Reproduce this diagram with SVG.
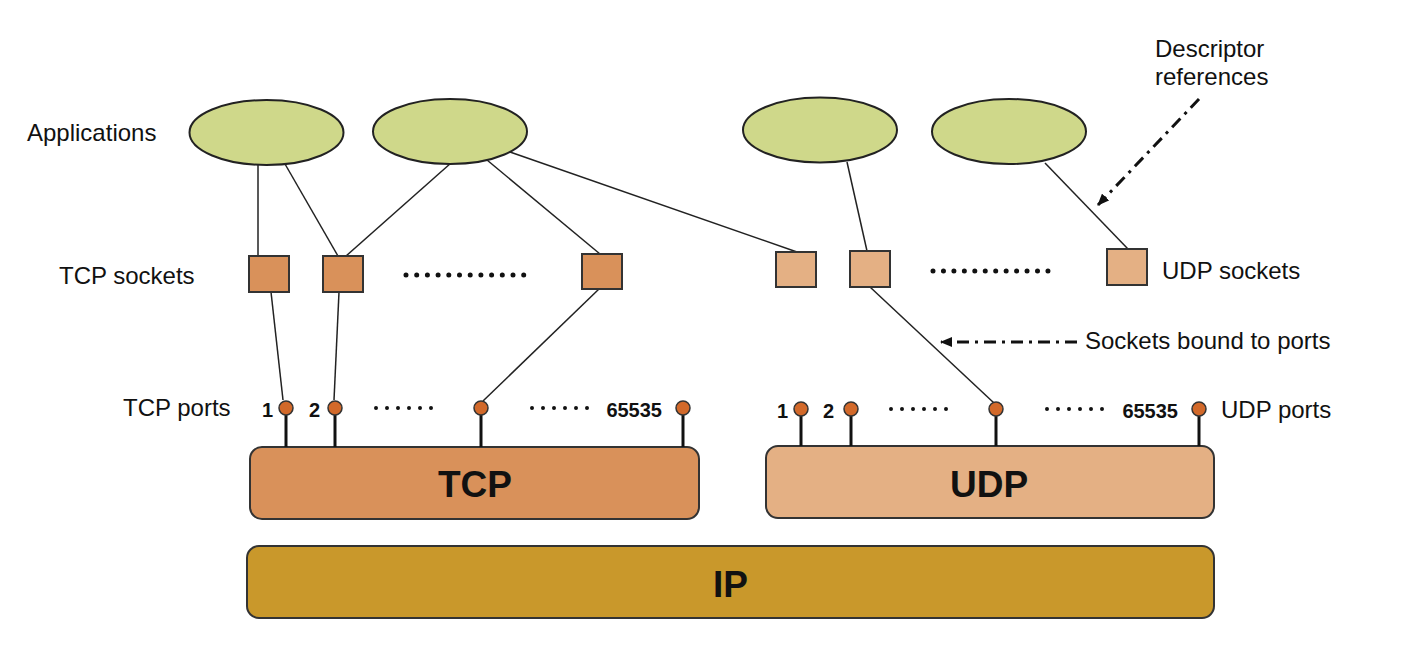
<svg xmlns="http://www.w3.org/2000/svg" width="1402" height="662" viewBox="0 0 1402 662">
<defs>
<style>
.lbl{font-family:"Liberation Sans",Arial,sans-serif;font-size:24px;fill:#111}
.num{font-family:"Liberation Sans",Arial,sans-serif;font-size:20px;font-weight:bold;fill:#111}
.big{font-family:"Liberation Sans",Arial,sans-serif;font-size:37px;font-weight:bold;fill:#111;text-anchor:middle}
.app{fill:#cfd88a;stroke:#222;stroke-width:2}
.tsock{fill:#d9915a;stroke:#333;stroke-width:2}
.usock{fill:#e4b084;stroke:#333;stroke-width:2}
.port{fill:#d2692a;stroke:#333;stroke-width:1.5}
.stem{stroke:#111;stroke-width:3}
.con{stroke:#222;stroke-width:1.5;fill:none}
.dots{stroke:#111;stroke-width:5;stroke-linecap:round;fill:none}
.pdots{stroke:#111;stroke-width:4;stroke-linecap:round;stroke-dasharray:0 11;fill:none}
.dd{stroke:#111;stroke-width:3;fill:none;stroke-dasharray:12 6 3 6}
</style>
<marker id="ah" viewBox="0 0 12 10" refX="11" refY="5" markerWidth="12" markerHeight="10" markerUnits="userSpaceOnUse" orient="auto">
<path d="M0,0 L12,5 L0,10 z" fill="#111"/>
</marker>
</defs>
<rect width="1402" height="662" fill="#fff"/>

<g id="ip-layer">
<rect x="247" y="546" width="967" height="72" rx="12" fill="#c9982b" stroke="#333" stroke-width="2"/>
<text class="big" x="730.5" y="597">IP</text>
</g>
<g id="tcp-layer">
<rect x="250" y="447" width="449" height="72" rx="12" fill="#d9915a" stroke="#333" stroke-width="2"/>
<text class="big" x="475" y="497">TCP</text>
</g>
<g id="udp-layer">
<rect x="766" y="446" width="448" height="72" rx="12" fill="#e4b084" stroke="#333" stroke-width="2"/>
<text class="big" x="989" y="497">UDP</text>
</g>

<g id="connectors">
<line class="con" x1="258" y1="165" x2="258" y2="256"/>
<line class="con" x1="285" y1="164" x2="338" y2="256"/>
<line class="con" x1="451" y1="163" x2="346" y2="256"/>
<line class="con" x1="487" y1="160" x2="600" y2="254"/>
<line class="con" x1="510" y1="152" x2="797" y2="252"/>
<line class="con" x1="847" y1="162" x2="867" y2="251"/>
<line class="con" x1="1045" y1="163" x2="1128" y2="249"/>
<line class="con" x1="271" y1="292" x2="283" y2="400"/>
<line class="con" x1="339" y1="292" x2="334" y2="400"/>
<line class="con" x1="599" y1="289" x2="483" y2="401"/>
<line class="con" x1="870" y1="287" x2="994" y2="403"/>
<line class="dd" x1="1199" y1="99" x2="1098" y2="205" marker-end="url(#ah)"/>
<line class="dd" x1="1077" y1="342" x2="941" y2="342" marker-end="url(#ah)"/>
</g>

<g id="app1"><ellipse class="app" cx="266.5" cy="132.5" rx="77" ry="32.5"/></g>
<g id="app2"><ellipse class="app" cx="450" cy="131.5" rx="77" ry="32.5"/></g>
<g id="app3"><ellipse class="app" cx="820" cy="130" rx="77" ry="32.5"/></g>
<g id="app4"><ellipse class="app" cx="1009" cy="131.5" rx="77" ry="32.5"/></g>

<g id="tcp-sock1"><rect class="tsock" x="249" y="256" width="40" height="36"/></g>
<g id="tcp-sock2"><rect class="tsock" x="323" y="256" width="40" height="36"/></g>
<g id="tcp-sock3"><rect class="tsock" x="582" y="254" width="40" height="35"/></g>
<g id="udp-sock1"><rect class="usock" x="776" y="252" width="40" height="35"/></g>
<g id="udp-sock2"><rect class="usock" x="850" y="251" width="40" height="36"/></g>
<g id="udp-sock3"><rect class="usock" x="1107" y="249" width="40" height="36"/></g>

<g id="sock-dots">
<line class="dots" x1="406" y1="275" x2="524" y2="275" stroke-dasharray="0 10.7"/>
<line class="dots" x1="933" y1="271" x2="1048" y2="271" stroke-dasharray="0 10.45"/>
</g>

<g id="tcp-ports">
<line class="stem" x1="286" y1="415" x2="286" y2="447"/>
<line class="stem" x1="335" y1="415" x2="335" y2="447"/>
<line class="stem" x1="481" y1="415" x2="481" y2="447"/>
<line class="stem" x1="683" y1="415" x2="683" y2="447"/>
<circle class="port" cx="286" cy="408" r="7"/>
<circle class="port" cx="335" cy="408" r="7"/>
<circle class="port" cx="481" cy="408" r="7"/>
<circle class="port" cx="683" cy="408" r="7"/>
<text class="num" x="262" y="417">1</text>
<text class="num" x="309" y="417">2</text>
<text class="num" x="662" y="417" text-anchor="end">65535</text>
<line class="pdots" x1="376" y1="408" x2="432" y2="408"/>
<line class="pdots" x1="532" y1="408" x2="588" y2="408"/>
</g>

<g id="udp-ports">
<line class="stem" x1="801" y1="416" x2="801" y2="446"/>
<line class="stem" x1="851" y1="416" x2="851" y2="446"/>
<line class="stem" x1="996" y1="416" x2="996" y2="446"/>
<line class="stem" x1="1199" y1="416" x2="1199" y2="446"/>
<circle class="port" cx="801" cy="409" r="7"/>
<circle class="port" cx="851" cy="409" r="7"/>
<circle class="port" cx="996" cy="409" r="7"/>
<circle class="port" cx="1199" cy="409" r="7"/>
<text class="num" x="777" y="418">1</text>
<text class="num" x="823" y="418">2</text>
<text class="num" x="1178" y="418" text-anchor="end">65535</text>
<line class="pdots" x1="891" y1="409" x2="947" y2="409"/>
<line class="pdots" x1="1047" y1="409" x2="1103" y2="409"/>
</g>

<g id="labels">
<text class="lbl" x="27" y="141">Applications</text>
<text class="lbl" x="59" y="284">TCP sockets</text>
<text class="lbl" x="123" y="416">TCP ports</text>
<text class="lbl" x="1162" y="279">UDP sockets</text>
<text class="lbl" x="1221" y="418">UDP ports</text>
<text class="lbl" x="1085" y="349">Sockets bound to ports</text>
<text class="lbl" x="1155" y="57">Descriptor</text>
<text class="lbl" x="1155" y="85">references</text>
</g>
</svg>
